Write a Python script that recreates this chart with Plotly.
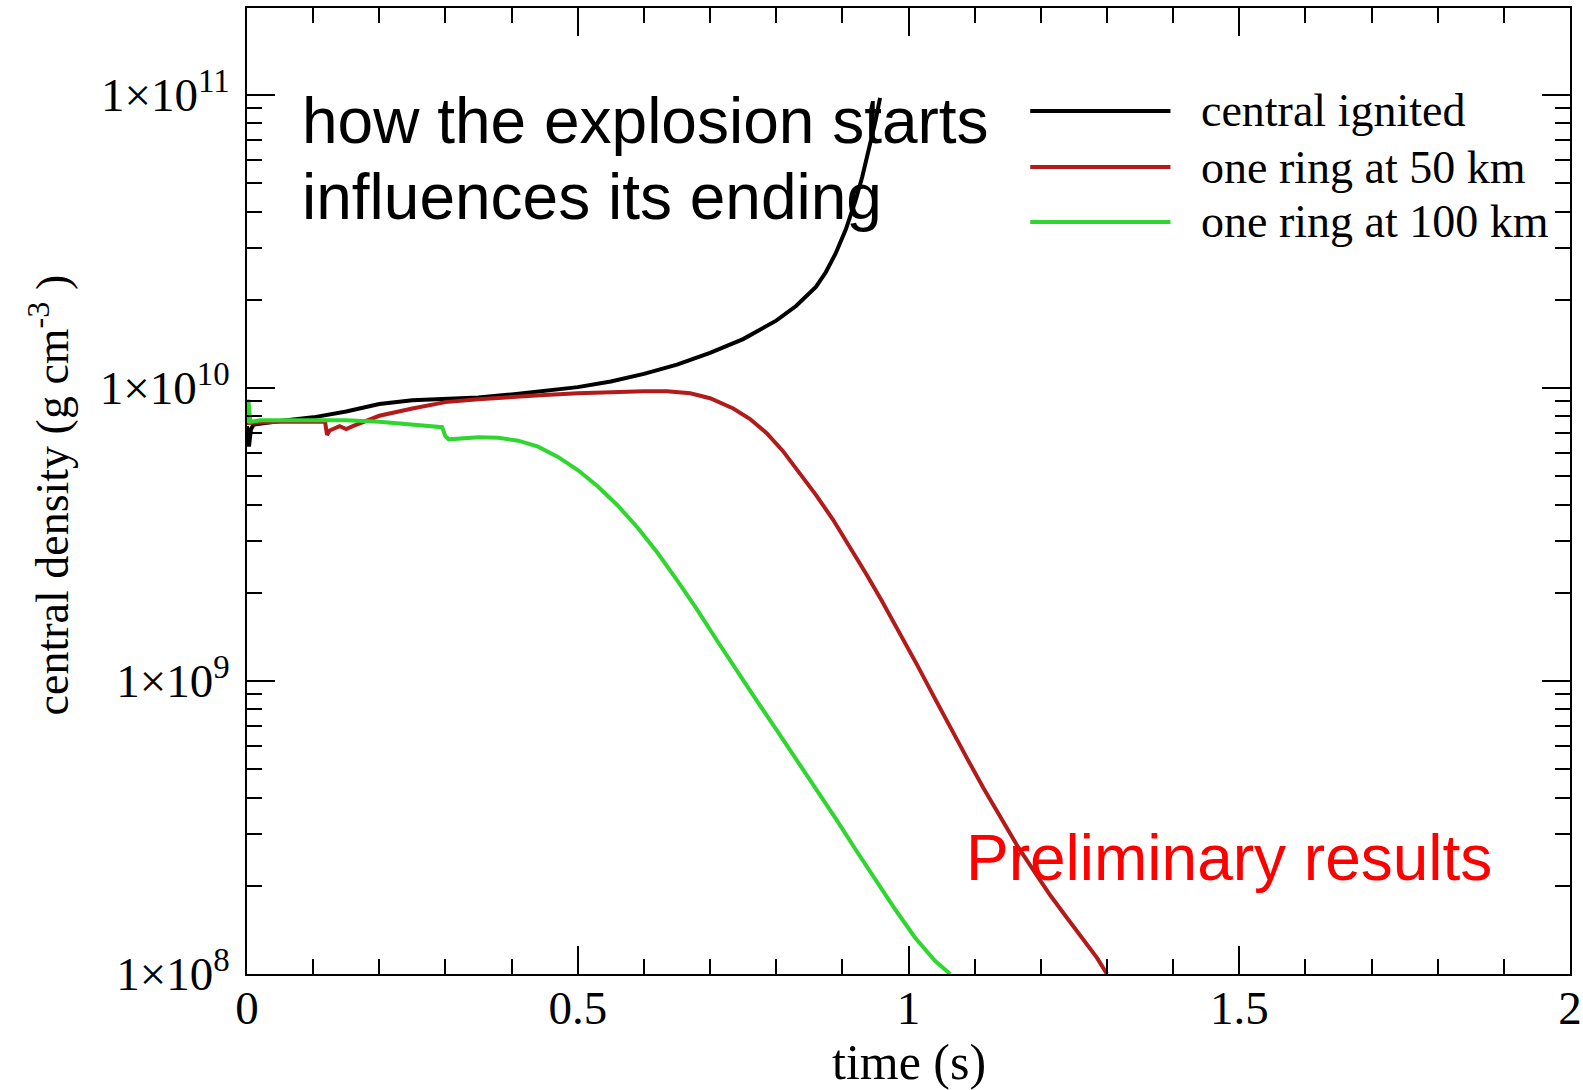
import plotly.graph_objects as go

# Central density evolution for three ignition configurations
series_names = ["central ignited", "one ring at 50 km", "one ring at 100 km"]
series_colors = ["#000000", "#b31b1b", "#2fd62f"]

t_central = [0.0, 0.003, 0.006, 0.01, 0.05, 0.1, 0.15, 0.2, 0.25, 0.3, 0.35, 0.4,
             0.45, 0.5, 0.55, 0.6, 0.65, 0.7, 0.75, 0.8, 0.83, 0.86, 0.875, 0.89,
             0.905, 0.92, 0.93, 0.94, 0.95, 0.957]
rho_central = [7.41e9, 6.31e9, 7.24e9, 7.50e9, 7.72e9, 7.94e9, 8.32e9, 8.82e9, 9.08e9,
               9.18e9, 9.29e9, 9.51e9, 9.77e9, 1.007e10, 1.052e10, 1.117e10, 1.202e10,
               1.318e10, 1.469e10, 1.698e10, 1.905e10, 2.213e10, 2.483e10, 2.884e10,
               3.467e10, 4.365e10, 5.248e10, 6.457e10, 8.128e10, 9.772e10]

t_ring50 = [0.0, 0.05, 0.1, 0.118, 0.121, 0.125, 0.14, 0.15, 0.16, 0.2, 0.25, 0.3,
            0.35, 0.4, 0.45, 0.5, 0.55, 0.6, 0.635, 0.67, 0.7, 0.735, 0.76, 0.786,
            0.81, 0.836, 0.86, 0.886, 0.91, 0.937, 0.96, 0.987, 1.013, 1.04, 1.063,
            1.09, 1.113, 1.14, 1.164, 1.19, 1.214, 1.24, 1.264, 1.285, 1.3]
rho_ring50 = [7.59e9, 7.67e9, 7.67e9, 7.67e9, 6.92e9, 7.16e9, 7.41e9, 7.24e9, 7.41e9,
              8.04e9, 8.51e9, 8.95e9, 9.16e9, 9.33e9, 9.46e9, 9.59e9, 9.68e9, 9.75e9,
              9.75e9, 9.59e9, 9.23e9, 8.51e9, 7.85e9, 7.00e9, 6.10e9, 5.13e9, 4.32e9,
              3.55e9, 2.90e9, 2.30e9, 1.87e9, 1.46e9, 1.135e9, 8.71e8, 6.92e8, 5.37e8,
              4.32e8, 3.39e8, 2.75e8, 2.24e8, 1.86e8, 1.55e8, 1.32e8, 1.135e8, 1.0e8]

t_ring100 = [0.0, 0.002, 0.005, 0.02, 0.05, 0.1, 0.15, 0.2, 0.25, 0.295, 0.3, 0.305,
             0.35, 0.38, 0.41, 0.44, 0.47, 0.5, 0.53, 0.56, 0.59, 0.62, 0.65, 0.68,
             0.71, 0.74, 0.77, 0.8, 0.83, 0.86, 0.89, 0.92, 0.95, 0.98, 1.01, 1.04,
             1.063]
rho_ring100 = [7.59e9, 9.12e9, 7.67e9, 7.76e9, 7.76e9, 7.76e9, 7.76e9, 7.67e9, 7.50e9,
               7.35e9, 6.84e9, 6.68e9, 6.79e9, 6.76e9, 6.61e9, 6.31e9, 5.82e9, 5.25e9,
               4.62e9, 3.98e9, 3.35e9, 2.75e9, 2.21e9, 1.76e9, 1.38e9, 1.084e9, 8.61e8,
               6.84e8, 5.43e8, 4.32e8, 3.39e8, 2.66e8, 2.09e8, 1.66e8, 1.33e8, 1.11e8,
               1.0e8]

x_ticks = [0, 0.5, 1, 1.5, 2]
x_tick_text = ["0", "0.5", "1", "1.5", "2"]
y_ticks = [1e8, 1e9, 1e10, 1e11]
y_tick_text = ["1×10<sup>8</sup>", "1×10<sup>9</sup>", "1×10<sup>10</sup>", "1×10<sup>11</sup>"]
y_minor = [m * 10 ** e for e in range(8, 12) for m in range(2, 10)]

headline = ["how the explosion starts", "influences its ending"]
note = "Preliminary results"

SERIF = "Liberation Serif, Times New Roman, serif"
SANS = "Liberation Sans, Arial, sans-serif"

fig = go.Figure()
for t, rho, name, color in zip([t_central, t_ring50, t_ring100],
                               [rho_central, rho_ring50, rho_ring100],
                               series_names, series_colors):
    fig.add_trace(go.Scatter(x=t, y=rho, mode="lines", name=name,
                             line=dict(color=color, width=4), showlegend=False))

axis_common = dict(
    showline=True, linecolor="black", linewidth=2, mirror="ticks",
    ticks="inside", tickcolor="black", tickwidth=2, ticklen=28,
    showgrid=False, zeroline=False, automargin=False,
    tickfont=dict(family=SERIF, size=47, color="black"),
)

fig.update_xaxes(
    range=[0, 2], tickvals=x_ticks, ticktext=x_tick_text,
    minor=dict(dtick=0.1, ticks="inside", ticklen=15, tickcolor="black", tickwidth=2, showgrid=False),
    ticklabelstandoff=-8,
    **axis_common,
)
fig.update_yaxes(
    type="log", range=[8, 11.297], tickvals=y_ticks, ticktext=y_tick_text,
    minor=dict(tickvals=y_minor, ticks="inside", ticklen=15, tickcolor="black", tickwidth=2, showgrid=False),
    ticklabelstandoff=6,
    **axis_common,
)

def label(text, x, y, font, **kw):
    return dict(text=text, x=x, y=y, xref="paper", yref="paper", showarrow=False,
                yanchor="middle", font=font, **kw)

annotations = [
    label("time (s)", 0.5004, -0.091, dict(family=SERIF, size=50, color="black"),
          xanchor="center"),
    label("central density (g cm<sup>-3</sup> )", -0.150, 0.496,
          dict(family=SERIF, size=46, color="black"), xanchor="center", textangle=-90),
    label(headline[0], 0.040, 0.883, dict(family=SANS, size=64, color="black"), xanchor="left"),
    label(headline[1], 0.040, 0.804, dict(family=SANS, size=64, color="black"), xanchor="left"),
    label(note, 0.542, 0.120, dict(family=SANS, size=64, color="#ff0000"), xanchor="left"),
]

# Hand-built legend with long sample lines
legend_rows = [0.8934, 0.8354, 0.7785]
shapes = []
for name, color, yy in zip(series_names, series_colors, legend_rows):
    shapes.append(dict(type="line", xref="paper", yref="paper",
                       x0=0.592, x1=0.698, y0=yy, y1=yy,
                       line=dict(color=color, width=4)))
    annotations.append(label(name, 0.7196, yy, dict(family=SERIF, size=46, color="black"),
                             xanchor="left"))

fig.update_layout(
    width=1583, height=1090,
    margin=dict(l=247, r=13, t=8, b=116),
    paper_bgcolor="white", plot_bgcolor="white",
    annotations=annotations, shapes=shapes,
    showlegend=False,
)

fig.write_html("out.html")
